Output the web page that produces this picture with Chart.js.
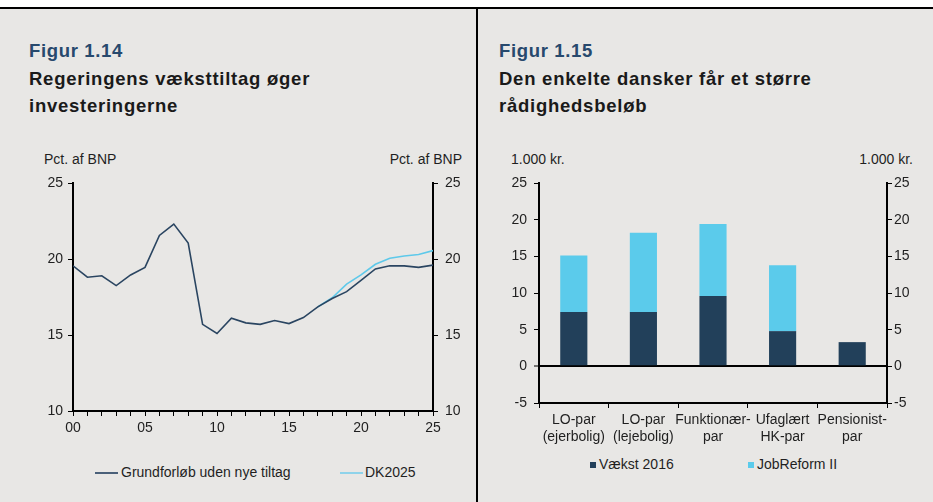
<!DOCTYPE html>
<html>
<head>
<meta charset="utf-8">
<script src="https://cdn.jsdelivr.net/npm/chart.js@4"></script>
<style>
  body { margin: 0; width: 933px; height: 502px; background: #fff; position: relative; overflow: hidden; font-family: Arial, "Liberation Sans", sans-serif; }
  #bg { position: absolute; left: 0; top: 7px; width: 933px; height: 495px; background: #e8e7e5; border-top: 2px solid #000; }
  #divider { position: absolute; left: 476px; top: 7px; width: 2px; height: 495px; background: #000; }
  .fig { position: absolute; font-weight: bold; font-size: 18.5px; letter-spacing: 0.65px; color: #27496d; white-space: nowrap; }
  .title { position: absolute; font-weight: bold; font-size: 18.5px; letter-spacing: 0.75px; color: #1a1a1a; line-height: 27px; white-space: nowrap; }
  .unit { position: absolute; font-size: 14px; color: #1f1f1f; white-space: nowrap; }
  .leg { position: absolute; font-size: 14px; color: #1f1f1f; white-space: nowrap; }
  .swline { position: absolute; height: 2px; }
  .swbox { position: absolute; width: 6px; height: 6px; }
  canvas { position: absolute; }
</style>
</head>
<body>
<div id="bg"></div>
<div id="divider"></div>

<div class="fig" style="left:29px; top:40px;">Figur 1.14</div>
<div class="title" style="left:29px; top:65px;">Regeringens væksttiltag øger<br>investeringerne</div>
<div class="fig" style="left:499px; top:40px;">Figur 1.15</div>
<div class="title" style="left:499px; top:65px;">Den enkelte dansker får et større<br>rådighedsbeløb</div>

<div class="unit" style="left:44px; top:151px;">Pct. af BNP</div>
<div class="unit" style="right:471px; top:151px;">Pct. af BNP</div>
<div class="unit" style="left:511px; top:151px;">1.000 kr.</div>
<div class="unit" style="right:20px; top:151px;">1.000 kr.</div>

<div style="position:absolute; left:0; top:130px; width:476px; height:320px;"><canvas id="lineChart"></canvas></div>
<div style="position:absolute; left:477px; top:130px; width:456px; height:320px;"><canvas id="barChart"></canvas></div>

<!-- legends -->
<div class="swline" style="left:95px; top:472px; width:23px; background:#4a6079;"></div>
<div class="leg" style="left:121px; top:464px;">Grundforløb uden nye tiltag</div>
<div class="swline" style="left:340px; top:472px; width:23px; background:#8fd3ea;"></div>
<div class="leg" style="left:365px; top:464px;">DK2025</div>

<div class="swbox" style="left:590px; top:462px; background:#22405a;"></div>
<div class="leg" style="left:599px; top:456px;">Vækst 2016</div>
<div class="swbox" style="left:748px; top:462px; background:#5bcbeb;"></div>
<div class="leg" style="left:757px; top:456px;">JobReform II</div>

<script>
// Figur 1.14
const years = [2000, 2001, 2002, 2003, 2004, 2005, 2006, 2007, 2008, 2009, 2010, 2011, 2012,
  2013, 2014, 2015, 2016, 2017, 2018, 2019, 2020, 2021, 2022, 2023, 2024, 2025]
const grundforloeb = [19.55, 18.8, 18.9, 18.25, 18.95, 19.45, 21.55, 22.3, 21.05, 15.7, 15.1, 16.1, 15.8,
  15.7, 15.95, 15.75, 16.15, 16.85, 17.4, 17.85, 18.6, 19.35, 19.55, 19.55, 19.45, 19.6]
const dk2025Years = [2017, 2018, 2019, 2020, 2021, 2022, 2023, 2024, 2025]
const dk2025 = [16.85, 17.45, 18.35, 18.95, 19.65, 20.05, 20.2, 20.3, 20.55]
const lineTicks = [10, 15, 20, 25]

// Figur 1.15
const groups = [['LO-par', '(ejerbolig)'], ['LO-par', '(lejebolig)'], ['Funktionær-', 'par'], ['Ufaglært', 'HK-par'], ['Pensionist-', 'par']]
const vaekst2016 = [7.4, 7.4, 9.6, 4.8, 3.3]
const jobReform = [7.7, 10.8, 9.8, 9.0, 0]
const barTicks = [-5, 0, 5, 10, 15, 20, 25]

Chart.defaults.font.family = 'Arial, "Liberation Sans", sans-serif'
Chart.defaults.font.size = 14
Chart.defaults.color = '#1f1f1f'

const fixW = w => scale => { scale.width = w }
const fixH = h => scale => { scale.height = h }

// line chart
new Chart(document.querySelector('#lineChart'), {
  type: 'line',
  data: {
    datasets: [
      {
        label: 'Grundforløb uden nye tiltag',
        data: years.map((y, i) => ({ x: y, y: grundforloeb[i] })),
        borderColor: '#2a4561',
        borderWidth: 1.6,
        pointRadius: 0,
        tension: 0
      },
      {
        label: 'DK2025',
        data: dk2025Years.map((y, i) => ({ x: y, y: dk2025[i] })),
        borderColor: '#5ec9ea',
        borderWidth: 1.6,
        pointRadius: 0,
        tension: 0
      }
    ]
  },
  options: {
    responsive: true,
    maintainAspectRatio: false,
    animation: false,
    layout: { padding: { top: 53, left: 0, right: 0, bottom: 0 } },
    plugins: { legend: { display: false }, tooltip: { enabled: false } },
    scales: {
      x: {
        type: 'linear',
        min: 2000,
        max: 2025,
        afterFit: fixH(39),
        afterBuildTicks: s => { s.ticks = years.map(v => ({ value: v })) },
        ticks: {
          padding: 4,
          autoSkip: false,
          maxRotation: 0,
          callback: v => v % 5 === 0 ? String(v % 100).padStart(2, '0') : ''
        },
        grid: { drawOnChartArea: false, color: '#000', tickLength: 5, lineWidth: 1 },
        border: { color: '#000', width: 2 }
      },
      y: {
        min: 10,
        max: 25,
        afterFit: fixW(73),
        afterBuildTicks: s => { s.ticks = lineTicks.map(v => ({ value: v })) },
        ticks: { padding: 5 },
        grid: { drawOnChartArea: false, color: '#000', tickLength: 5 },
        border: { color: '#000', width: 2 }
      },
      y2: {
        position: 'right',
        min: 10,
        max: 25,
        afterFit: fixW(43),
        afterBuildTicks: s => { s.ticks = lineTicks.map(v => ({ value: v })) },
        ticks: { padding: 7 },
        grid: { drawOnChartArea: false, color: '#000', tickLength: 5 },
        border: { color: '#000', width: 2 }
      }
    }
  }
})

// bar chart
new Chart(document.querySelector('#barChart'), {
  type: 'bar',
  data: {
    labels: groups,
    datasets: [
      { label: 'Vækst 2016', data: vaekst2016, backgroundColor: '#22405a', barPercentage: 0.39, categoryPercentage: 1 },
      { label: 'JobReform II', data: jobReform, backgroundColor: '#5bcbeb', barPercentage: 0.39, categoryPercentage: 1 }
    ]
  },
  options: {
    responsive: true,
    maintainAspectRatio: false,
    animation: false,
    layout: { padding: { top: 53, left: 0, right: 0, bottom: 0 } },
    plugins: { legend: { display: false }, tooltip: { enabled: false } },
    scales: {
      x: {
        stacked: true,
        afterFit: fixH(47),
        ticks: { padding: 4, maxRotation: 0, autoSkip: false, font: { lineHeight: 1.2 } },
        grid: { drawOnChartArea: false, color: '#000', tickLength: 5, offset: true },
        border: { color: '#000', width: 2 }
      },
      y: {
        stacked: true,
        min: -5,
        max: 25,
        afterFit: fixW(62),
        afterBuildTicks: s => { s.ticks = barTicks.map(v => ({ value: v })) },
        ticks: { padding: 7 },
        grid: {
          color: c => c.tick && c.tick.value === 0 ? '#000' : 'rgba(0,0,0,0)',
          lineWidth: c => c.tick && c.tick.value === 0 ? 2 : 1,
          tickColor: '#000',
          tickWidth: 1,
          tickLength: 5
        },
        border: { color: '#000', width: 2 }
      },
      y2: {
        position: 'right',
        min: -5,
        max: 25,
        afterFit: fixW(46),
        afterBuildTicks: s => { s.ticks = barTicks.map(v => ({ value: v })) },
        ticks: { padding: 2 },
        grid: { drawOnChartArea: false, color: '#000', tickLength: 5 },
        border: { color: '#000', width: 2 }
      }
    }
  }
})
</script>
</body>
</html>
